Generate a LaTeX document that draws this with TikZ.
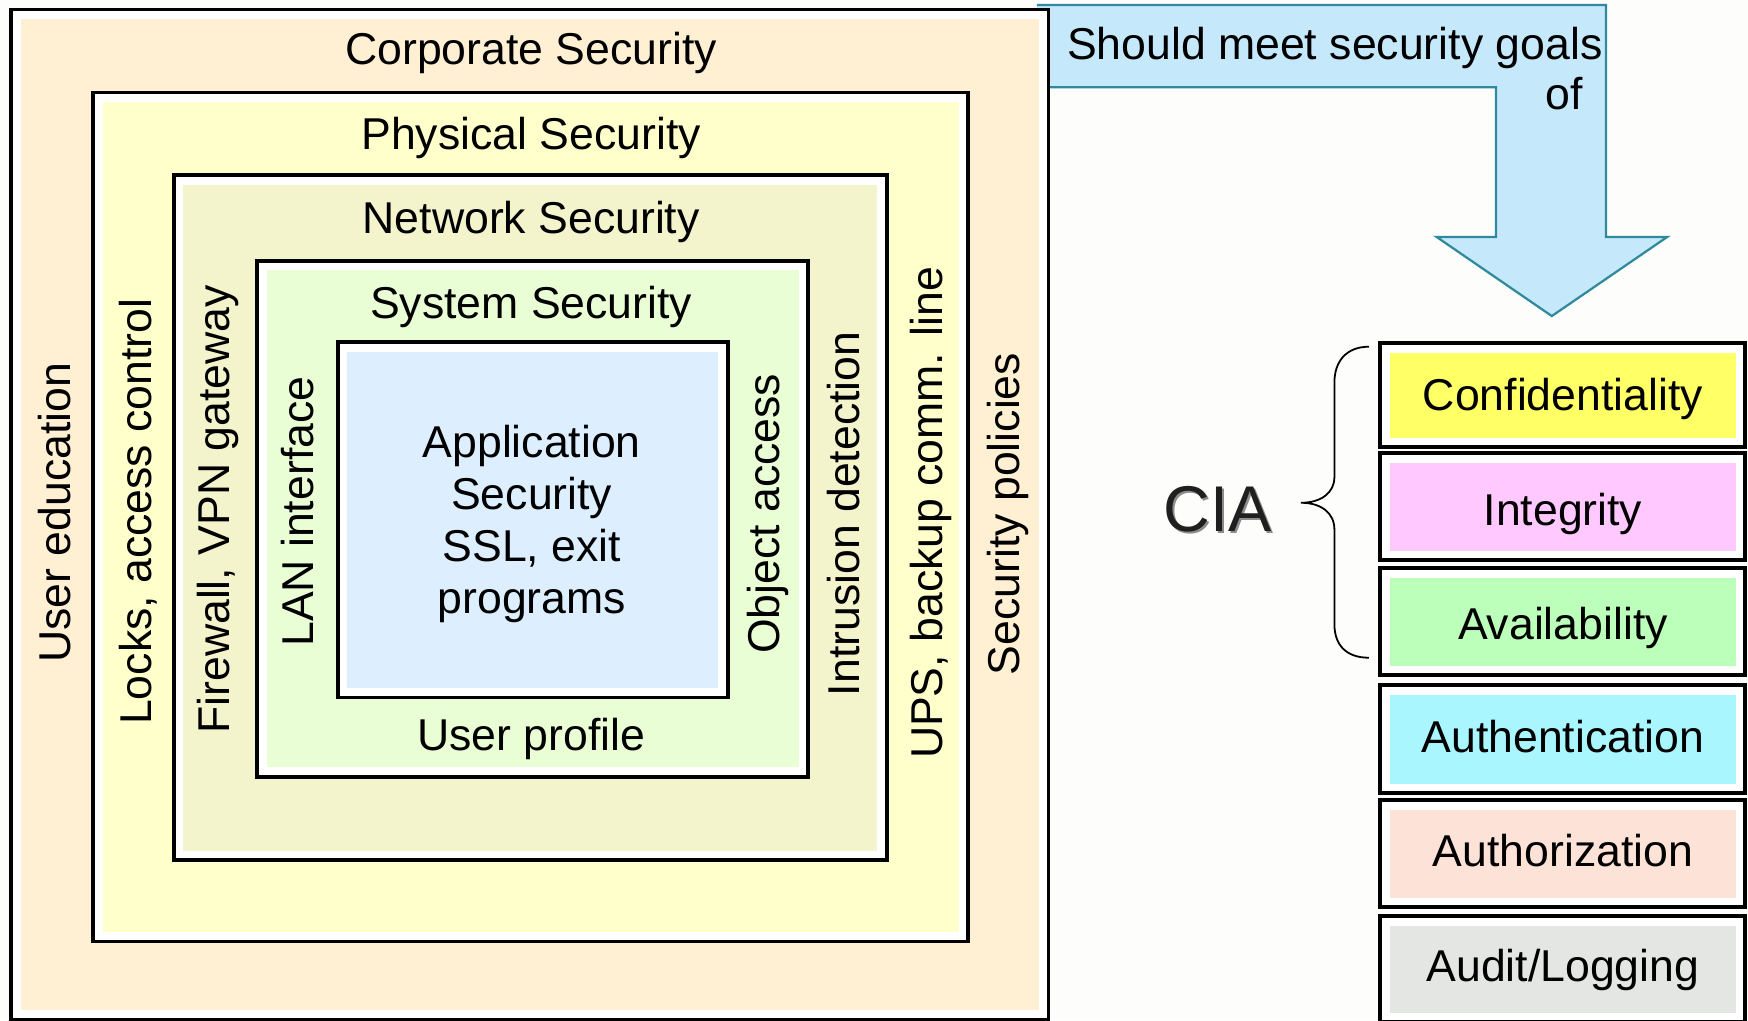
\documentclass[tikz,border=0pt]{standalone}
\usepackage{fontspec}
\setmainfont{Liberation Sans}
\definecolor{bg}{HTML}{FDFDFB}
\definecolor{corp}{HTML}{FFF0D4}
\definecolor{phys}{HTML}{FFFFCC}
\definecolor{netw}{HTML}{F3F3CC}
\definecolor{syst}{HTML}{EAFED6}
\definecolor{appl}{HTML}{DDEFFF}
\definecolor{arrfill}{HTML}{C5E8FB}
\definecolor{arrline}{HTML}{2E8A9C}
\definecolor{cconf}{HTML}{FFFF66}
\definecolor{cinteg}{HTML}{FFC8FF}
\definecolor{cavail}{HTML}{BBFFBB}
\definecolor{cauthn}{HTML}{AAF6FF}
\definecolor{cauthz}{HTML}{FDE2D8}
\definecolor{caudit}{HTML}{E4E6E4}
\newcommand\secbox[5]{%
  \draw[frm] (#1,#2) rectangle (#3,#4);
  \fill[#5] ({#1+8.5},{#2+8.5}) rectangle ({#3-8.5},{#4-8.5});}
\newcommand\goalbox[6]{%
  \draw[frm] (1237.5,#1) rectangle (1565.5,#2);
  \fill[#4] (1247,{#1+9}) rectangle (1557,{#2-8});
  \node[lbl] (#5) at (1402,#3) {#6};}
\begin{document}
\begin{tikzpicture}[x=1pt,y=-1pt,
  lbl/.style={font=\fontsize{40}{46.4}\selectfont, inner sep=0pt, anchor=base},
  vlbl/.style={lbl, rotate=90},
  frm/.style={draw=black, line width=3.5pt, fill=white},
  arrowfill/.style={fill=arrfill},
  arrowline/.style={draw=arrline, line width=2pt, line join=miter},
  bracestyle/.style={draw=black, line width=1.6pt},
  ciafont/.style={font=\fontsize{58}{60}\selectfont, inner sep=0pt, anchor=base west}]
\useasboundingbox (0,0) rectangle (1568,915);
\fill[bg] (0,0) rectangle (1568,915);

% big arrow (its left end lies under the corporate frame)
\fill[arrowfill] (930,4.5) -- (1440.7,4.5) -- (1440.7,212.5) -- (1495.6,212.5)
  -- (1392,283.5) -- (1288.6,212.5) -- (1342,212.5) -- (1342,78.3) -- (930,78.3) -- cycle;
\draw[arrowline] (930,4.5) -- (1440.7,4.5) -- (1440.7,212.5) -- (1495.6,212.5)
  -- (1392,283.5) -- (1288.6,212.5) -- (1342,212.5) -- (1342,78.3) -- (930,78.3);

% nested security layers
\secbox{10}{8.5}{940.5}{914.5}{corp}
\secbox{83.5}{83}{868.5}{844.5}{phys}
\secbox{155.8}{157.2}{795.5}{771.5}{netw}
\secbox{230.8}{234}{725}{696.7}{syst}
\secbox{303}{307}{653}{625.7}{appl}

% horizontal labels
\node[lbl] (tcorp) at (476.5,58.3) {Corporate Security};
\node[lbl] (tphys) at (476.5,134.5) {Physical Security};
\node[lbl] (tnetw) at (476.5,209.5) {Network Security};
\node[lbl] (tsyst) at (476.5,286) {System Security};
\node[lbl, anchor=center, align=center] (tappl) at (477,470) {Application\\Security\\SSL, exit\\programs};
\node[lbl] (tprof) at (476.5,673.4) {User profile};

% vertical labels
\node[vlbl] (tuser) at (63,460) {User education};
\node[vlbl] (tlock) at (136,459) {Locks, access control};
\node[vlbl] (tfire) at (206,457) {Firewall, VPN gateway};
\node[vlbl] (tlan)  at (281,459) {LAN interface};
\node[vlbl] (tobj)  at (699,461) {Object access};
\node[vlbl] (tids)  at (771,461) {Intrusion detection};
\node[vlbl] (tups)  at (845,460) {UPS, backup comm. line};
\node[vlbl] (tpol)  at (914.5,461) {Security policies};

% arrow text
\node[lbl, anchor=base west] (tgoal) at (957,53.8) {Should meet security goals};
\node[lbl, anchor=base east] (tof) at (1420,98) {of};

% goal boxes
\goalbox{308}{401}{368}{cconf}{gconf}{Confidentiality}
\goalbox{406.5}{502}{471}{cinteg}{ginteg}{Integrity}
\goalbox{509.5}{605.5}{574}{cavail}{gavail}{Availability}
\goalbox{614.5}{711.5}{675}{cauthn}{gauthn}{Authentication}
\goalbox{718}{813.5}{777.5}{cauthz}{gauthz}{Authorization}
\goalbox{821.7}{916.5}{880}{caudit}{gaudit}{Audit/Logging}

% CIA with shadow
\node[ciafont, text=black!45] (ciashadow) at (1045.4,479) {CIA};
\node[ciafont, text=black!88] (cia) at (1043.4,477) {CIA};

% brace
\coordinate (btop) at (1228,311);
\coordinate (btip) at (1167,451);
\coordinate (bbot) at (1228,590);
\draw[bracestyle] (btop) .. controls (1207,311) and (1197,325) .. (1197,343)
  -- (1197,428) .. controls (1197,442) and (1185,451) .. (btip)
  .. controls (1185,451) and (1197,460) .. (1197,475)
  -- (1197,560) .. controls (1197,578) and (1207,590) .. (bbot);
\end{tikzpicture}
\end{document}
